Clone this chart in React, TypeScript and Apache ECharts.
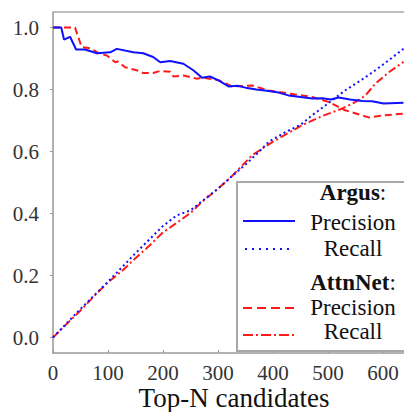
import React, { useEffect, useRef } from "react";
import * as echarts from "echarts";

const argusPrecN = [0, 15, 20, 31, 42, 58, 80, 104, 116, 146, 164, 182, 195, 213, 237, 255, 271, 285, 300, 319, 335, 350, 370, 392, 410, 428, 450, 471, 490, 505, 519, 540, 562, 580, 601, 637];
const argusPrecV = [1.0, 1.0, 0.961, 0.97, 0.929, 0.929, 0.917, 0.92, 0.931, 0.92, 0.917, 0.905, 0.888, 0.892, 0.883, 0.862, 0.838, 0.842, 0.83, 0.81, 0.812, 0.806, 0.8, 0.795, 0.79, 0.781, 0.776, 0.771, 0.772, 0.768, 0.774, 0.768, 0.763, 0.762, 0.755, 0.757];

const attnPrecN = [0, 40, 52, 68, 85, 98, 113, 118, 131, 152, 164, 182, 195, 213, 219, 237, 261, 271, 301, 325, 362, 392, 440, 471, 501, 531, 574, 604, 637];
const attnPrecV = [1.0, 1.0, 0.937, 0.933, 0.915, 0.91, 0.888, 0.89, 0.872, 0.862, 0.853, 0.853, 0.86, 0.857, 0.842, 0.845, 0.835, 0.838, 0.83, 0.81, 0.813, 0.797, 0.784, 0.776, 0.76, 0.733, 0.71, 0.717, 0.722];

const argusRecN = [0, 25, 50, 75, 100, 125, 150, 175, 200, 225, 250, 271, 300, 325, 350, 375, 392, 425, 450, 471, 500, 531, 560, 586, 610, 637];
const argusRecV = [0, 0.046, 0.092, 0.136, 0.18, 0.226, 0.272, 0.316, 0.36, 0.394, 0.41, 0.44, 0.48, 0.52, 0.558, 0.6, 0.631, 0.665, 0.686, 0.717, 0.755, 0.797, 0.83, 0.862, 0.894, 0.931];

const attnRecN = [0, 25, 50, 75, 100, 125, 150, 175, 200, 225, 250, 271, 300, 325, 362, 400, 453, 490, 525, 550, 568, 586, 610, 637];
const attnRecV = [0, 0.044, 0.087, 0.134, 0.178, 0.214, 0.256, 0.296, 0.339, 0.37, 0.402, 0.438, 0.48, 0.52, 0.588, 0.632, 0.685, 0.715, 0.738, 0.76, 0.781, 0.819, 0.855, 0.889];

const yTicks = [0, 0.2, 0.4, 0.6, 0.8, 1.0];
const xTicks = [0, 100, 200, 300, 400, 500, 600];

const FONT = "Liberation Serif";
const BLUE = "#1010ff";
const RED = "#ff1a1a";

function pairs(n: number[], v: number[]) {
  return n.map((x, i) => [x, v[i]]);
}

export default function App() {
  const ref = useRef<HTMLDivElement>(null);
  useEffect(() => {
    if (!ref.current) return;
    const chart = echarts.init(ref.current, null, { renderer: "svg" });
    const legendText = (text: string, y: number, rich?: any) => ({
      type: "text",
      x: 353,
      y,
      z: 101,
      style: {
        text,
        fill: "#111",
        font: `23px ${FONT}`,
        fontFamily: FONT,
        fontSize: 23,
        align: "center",
        verticalAlign: "middle",
        textAlign: "center",
        textVerticalAlign: "middle",
        rich,
      },
    });
    const richHead = {
      b: { fontFamily: FONT, fontSize: 23, fontWeight: "bold", fill: "#111", color: "#111" },
      n: { fontFamily: FONT, fontSize: 23, fontWeight: "normal", fill: "#111", color: "#111" },
    };
    const legLine = (x1: number, x2: number, y: number, color: string, dash: number[] | null) => ({
      type: "line",
      z: 101,
      shape: { x1, y1: y, x2, y2: y },
      style: { stroke: color, lineWidth: 2, lineDash: dash || undefined },
    });
    chart.setOption({
      animation: false,
      backgroundColor: "#fff",
      textStyle: { fontFamily: FONT },
      grid: { left: 53, right: -11, top: 12, bottom: 59, outerBoundsMode: "none", containLabel: false },
      xAxis: {
        type: "value",
        min: 0,
        max: 658,
        axisLine: { show: true, onZero: false, lineStyle: { color: "#999", width: 1.5 } },
        axisTick: { show: true, inside: true, length: 3, customValues: xTicks, lineStyle: { color: "#999" } },
        axisLabel: {
          customValues: xTicks,
          formatter: (v: number) => String(Math.round(v)),
          color: "#333",
          fontFamily: FONT,
          fontSize: 21,
          margin: 9,
        },
        splitLine: { show: false },
        name: "Top-N candidates",
        nameLocation: "middle",
        nameGap: 31,
        nameMoveOverlap: false,
        nameTextStyle: { fontFamily: FONT, fontSize: 27, color: "#111" },
      },
      yAxis: {
        type: "value",
        min: -0.05,
        max: 1.05,
        axisLine: { show: true, lineStyle: { color: "#999", width: 1.5 } },
        axisTick: { show: true, length: 3, customValues: yTicks, lineStyle: { color: "#999" } },
        axisLabel: {
          customValues: yTicks,
          formatter: (v: number) => v.toFixed(1),
          color: "#333",
          fontFamily: FONT,
          fontSize: 21,
          margin: 14,
        },
        splitLine: { show: false },
      },
      series: [
        {
          type: "line",
          name: "AttnNet Precision",
          data: pairs(attnPrecN, attnPrecV),
          showSymbol: false,
          lineStyle: { color: RED, width: 2, type: [7, 4] },
        },
        {
          type: "line",
          name: "AttnNet Recall",
          data: pairs(attnRecN, attnRecV),
          showSymbol: false,
          lineStyle: { color: RED, width: 2, type: [8, 3, 2, 3] },
        },
        {
          type: "line",
          name: "Argus Precision",
          data: pairs(argusPrecN, argusPrecV),
          showSymbol: false,
          lineStyle: { color: BLUE, width: 2, type: "solid" },
        },
        {
          type: "line",
          name: "Argus Recall",
          data: pairs(argusRecN, argusRecV),
          showSymbol: false,
          lineStyle: { color: BLUE, width: 2, type: [2, 3] },
        },
      ],
      graphic: [
        {
          type: "line",
          z: 100,
          shape: { x1: 53, y1: 12, x2: 404, y2: 12 },
          style: { stroke: "#aaa", lineWidth: 1.5 },
        },
        {
          type: "rect",
          z: 100,
          shape: { x: 237, y: 182, width: 200, height: 169 },
          style: { fill: "#fff", stroke: "#a8a8a8", lineWidth: 2 },
        },
        legendText("{b|Argus}{n|:}", 192, richHead),
        legLine(243, 295, 221, BLUE, null),
        legendText("Precision", 222),
        legLine(245, 293, 249, BLUE, [2, 5]),
        legendText("Recall", 248),
        legendText("{b|AttnNet}{n|:}", 282, richHead),
        legLine(243, 296, 308, RED, [9, 5]),
        legendText("Precision", 307),
        legLine(243, 296, 335, RED, [10, 3, 2, 3]),
        legendText("Recall", 331),
      ],
    });
    return () => chart.dispose();
  }, []);
  return <div ref={ref} style={{ width: 404, height: 412, position: "absolute", left: 0, top: 0 }} />;
}
